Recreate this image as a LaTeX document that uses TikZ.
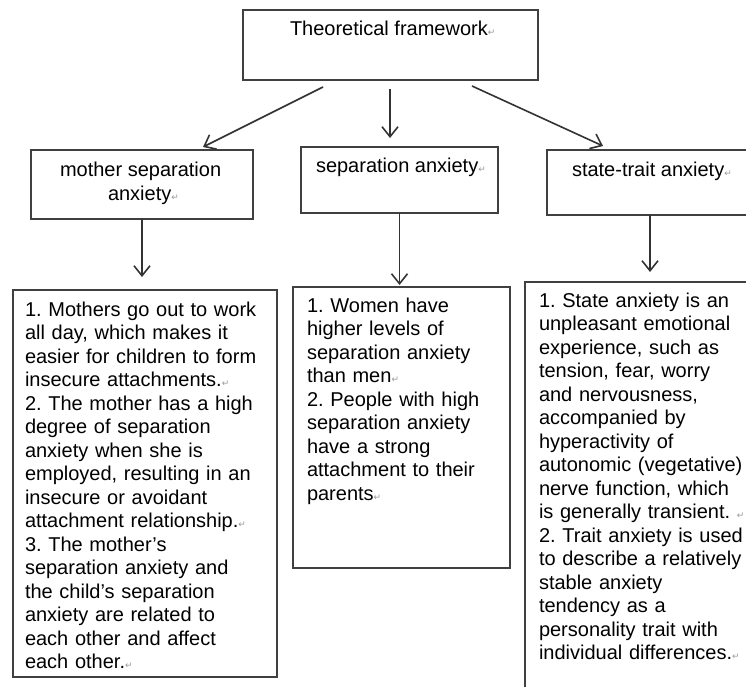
\documentclass[tikz,border=0pt]{standalone}
\usepackage{fontspec}
\setmainfont{Liberation Sans}
\newfontfamily\marksymfont{DejaVu Sans}
\usetikzlibrary{arrows.meta,calc}
\frenchspacing
\newcommand{\retmark}{{\marksymfont\fontsize{9}{9}\selectfont\color{black!40}↵}}
\begin{document}
\begin{tikzpicture}[x=1pt,y=-1pt,
  box/.style={draw=black!75, line width=1.5pt, anchor=north west, inner sep=0pt, outer sep=0pt},
  lbl/.style={inner sep=0pt, outer sep=0pt, font=\fontsize{20}{24}\selectfont\frenchspacing, anchor=base west},
  body/.style={inner sep=0pt, outer sep=0pt, font=\fontsize{20}{23.5}\selectfont\frenchspacing, align=left, text width=#1, anchor=base west},
  link/.style={draw=black!80, line width=1.6pt, -{Straight Barb[length=10pt,width=16pt,line width=1.6pt]}}]
\path[use as bounding box] (0,0) rectangle (746,686);
\clip (0,0) rectangle (746,686);
% boxes
\node[box, minimum width=295pt, minimum height=70pt] (top) at (243,10) {};
\node[box, minimum width=222pt, minimum height=69pt] (mother) at (31,150) {};
\node[box, minimum width=197pt, minimum height=66pt] (sep) at (301,147) {};
\node[box, minimum width=210pt, minimum height=65pt] (st) at (547,150) {};
\node[box, minimum width=264pt, minimum height=387pt] (b1) at (13,290) {};
\node[box, minimum width=217pt, minimum height=281pt] (b2) at (293,287) {};
\node[box, minimum width=227pt, minimum height=420pt] (b3) at (525,282) {};
% labels
\node[lbl] (ttop) at (290,35) {Theoretical framework\retmark};
\node[lbl] (tmother1) at (60,176) {mother separation};
\node[lbl] (tmother2) at (108,200) {anxiety\retmark};
\node[lbl] (tsep) at (316,172) {separation anxiety\retmark};
\node[lbl] (tst) at (572,176) {state-trait anxiety\retmark};
% bodies
\node[body=300pt] (tb1) at (25,316) {1. Mothers go out to work\\
all day, which makes it\\
easier for children to form\\
insecure attachments.\retmark\\
2. The mother has a high\\
degree of separation\\
anxiety when she is\\
employed, resulting in an\\
insecure or avoidant\\
attachment relationship.\retmark\\
3. The mother's\\
separation anxiety and\\
the child's separation\\
anxiety are related to\\
each other and affect\\
each other.\retmark};
\node[body=260pt] (tb2) at (307,312) {1. Women have\\
higher levels of\\
separation anxiety\\
than men\retmark\\
2. People with high\\
separation anxiety\\
have a strong\\
attachment to their\\
parents\retmark};
\node[body=260pt] (tb3) at (539,307) {1. State anxiety is an\\
unpleasant emotional\\
experience, such as\\
tension, fear, worry\\
and nervousness,\\
accompanied by\\
hyperactivity of\\
autonomic (vegetative)\\
nerve function, which\\
is generally transient.\ \retmark\\
2. Trait anxiety is used\\
to describe a relatively\\
stable anxiety\\
tendency as a\\
personality trait with\\
individual differences.\retmark};
% connectors
\draw[link] ($(top.south)+(-67.5,7)$) -- ($(mother.north east)+(-50,-3)$);
\draw[link] ($(top.south)+(-0.5,9)$) -- ($(sep.north)+(-9.5,-9)$);
\draw[link] ($(top.south)+(81.5,6)$) -- ($(st.north west)+(56,-4)$);
\draw[link] (mother.south) -- ($(mother.south |- b1.north)+(0,-13)$);
\draw[link] (sep.south) -- ($(sep.south |- b2.north)+(0,-2)$);
\draw[link] ($(st.south)+(-2,0)$) -- ($(st.south |- b3.north)+(-2,-10)$);
\end{tikzpicture}
\end{document}
